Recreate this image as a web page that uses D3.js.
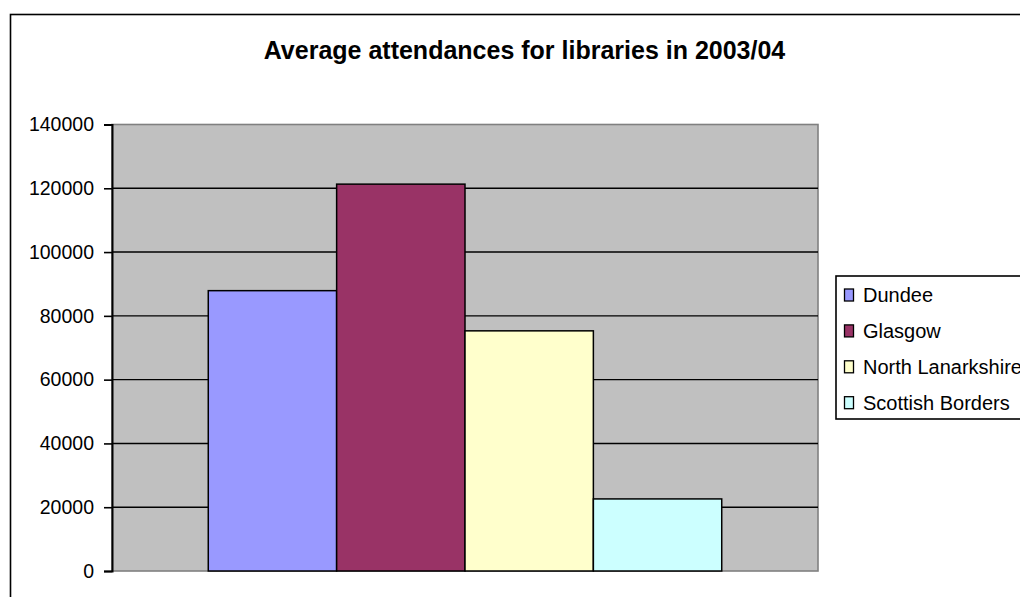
<!DOCTYPE html>
<html>
<head>
<meta charset="utf-8">
<script src="https://cdn.jsdelivr.net/npm/d3@7"></script>
<style>
  html, body { margin: 0; padding: 0; background: #ffffff; }
  svg { display: block; font-family: "Liberation Sans", Arial, sans-serif; }
</style>
</head>
<body>
<svg id="chart" width="1020" height="597"></svg>
<script>
// Library attendance figures, 2003/04
const title = "Average attendances for libraries in 2003/04";
const category = "2003/04";
const councils = ["Dundee", "Glasgow", "North Lanarkshire", "Scottish Borders"];
const attendances = [87900, 121300, 75300, 22600];
const colours = ["#9999FF", "#993366", "#FFFFCC", "#CCFFFF"];
const yTicks = [0, 20000, 40000, 60000, 80000, 100000, 120000, 140000];

const svg = d3.select("#chart");

// Chart area frame
svg.append("rect")
  .attr("x", 10.5).attr("y", 14.5)
  .attr("width", 1100).attr("height", 700)
  .attr("fill", "#ffffff")
  .attr("stroke", "#000").attr("stroke-width", 1.6);

// Title
svg.append("text")
  .attr("x", 524.5).attr("y", 59)
  .attr("text-anchor", "middle")
  .attr("font-size", 25).attr("font-weight", "bold")
  .attr("fill", "#000")
  .text(title);

// Plot area
const plot = { left: 112, top: 124.5, right: 818, bottom: 571 };
const y = d3.scaleLinear().domain([0, 140000]).range([plot.bottom, plot.top]);

// one category, bars separated from the walls by a 150% gap
const x0 = d3.scaleBand().domain([category]).range([plot.left, plot.right]).paddingOuter(0.1875);
const x1 = d3.scaleBand().domain(councils).range([0, x0.bandwidth()]);

const g = svg.append("g");

g.append("rect")
  .attr("x", plot.left).attr("y", plot.top)
  .attr("width", plot.right - plot.left).attr("height", plot.bottom - plot.top)
  .attr("fill", "#C0C0C0")
  .attr("stroke", "#808080").attr("stroke-width", 1.6);

// Gridlines
g.selectAll("line.grid")
  .data(yTicks.filter(t => t > 0 && t < 140000))
  .join("line")
  .attr("class", "grid")
  .attr("x1", plot.left).attr("x2", plot.right)
  .attr("y1", d => y(d)).attr("y2", d => y(d))
  .attr("stroke", "#000").attr("stroke-width", 1.4);

// Bars
const rows = councils.map((c, i) => ({ name: c, value: attendances[i], colour: colours[i] }));
g.selectAll("rect.bar")
  .data(rows)
  .join("rect")
  .attr("class", "bar")
  .attr("x", d => x0(category) + x1(d.name))
  .attr("y", d => y(d.value))
  .attr("width", x1.bandwidth())
  .attr("height", d => y(0) - y(d.value))
  .attr("fill", d => d.colour)
  .attr("stroke", "#000").attr("stroke-width", 1.5);

// Value axis
const yAxis = d3.axisLeft(y).tickValues(yTicks).tickSize(8).tickPadding(10).tickFormat(d3.format("d"));
const ax = svg.append("g").attr("transform", `translate(${plot.left},0)`).call(yAxis);
ax.select(".domain").attr("stroke", "#000").attr("stroke-width", 2);
ax.selectAll(".tick line").attr("stroke", "#000").attr("stroke-width", 1.6);
ax.selectAll(".tick text")
  .attr("font-size", 19.5)
  .attr("font-family", "'Liberation Sans', Arial, sans-serif")
  .attr("fill", "#000");

// Legend
const legend = svg.append("g");
legend.append("rect")
  .attr("x", 836).attr("y", 276)
  .attr("width", 300).attr("height", 143)
  .attr("fill", "#ffffff")
  .attr("stroke", "#000").attr("stroke-width", 1.6);

const item = legend.selectAll("g.item")
  .data(rows)
  .join("g")
  .attr("class", "item")
  .attr("transform", (d, i) => `translate(0, ${295 + i * 35.9})`);

item.append("rect")
  .attr("x", 844.5).attr("y", -6)
  .attr("width", 9).attr("height", 12)
  .attr("fill", d => d.colour)
  .attr("stroke", "#000").attr("stroke-width", 1.3);

item.append("text")
  .attr("x", 863).attr("y", 0).attr("dy", "0.36em")
  .attr("font-size", 20)
  .attr("fill", "#000")
  .text(d => d.name);
</script>
</body>
</html>
